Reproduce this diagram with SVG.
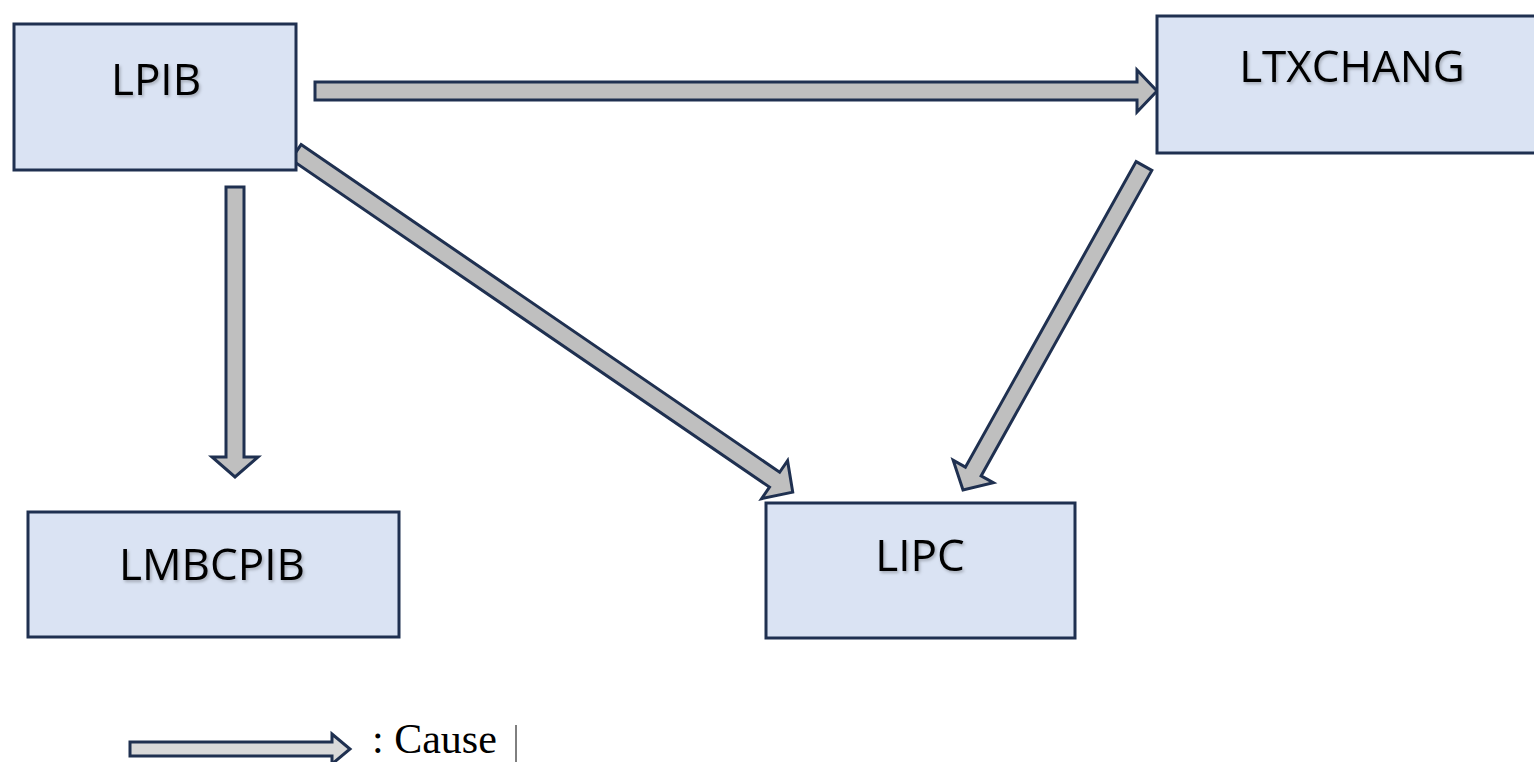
<svg xmlns="http://www.w3.org/2000/svg" width="1534" height="762" viewBox="0 0 1534 762">
<defs>
<filter id="sh" x="-10%" y="-10%" width="130%" height="140%"><feDropShadow dx="1.5" dy="2" stdDeviation="1.5" flood-color="#000" flood-opacity="0.25"/></filter>
</defs>
<style>
.box{fill:#dae3f3;stroke:#1f3050;stroke-width:3}
.lbl{font-family:"Open Sans","Noto Sans",sans-serif;font-size:44px;fill:#000;text-anchor:middle;filter:url(#sh)}
.arr{fill:#bfbfbf;stroke:#1f3050;stroke-width:3;stroke-linejoin:miter}
</style>
<rect width="1534" height="762" fill="#fff"/>
<g id="connectors">
<polygon class="arr" points="0,-9 822,-9 822,-21 842,0 822,21 822,9 0,9" transform="translate(315,91)"/>
<polygon class="arr" points="0,-9 270,-9 270,-23 290,0 270,23 270,9 0,9" transform="translate(235,187) rotate(90)"/>
<polygon class="arr" points="0,-9 580,-9 580,-23 602,0 580,23 580,9 0,9" transform="translate(296,152) rotate(34.4)"/>
<polygon class="arr" points="0,-9 350,-9 350,-23 371,0 350,23 350,9 0,9" transform="translate(1144,166) rotate(119.2)"/>
</g>
<g id="LPIB"><rect class="box" x="14" y="24" width="282" height="146"/><text class="lbl" x="156" y="95">LPIB</text></g>
<g id="LTXCHANG"><rect class="box" x="1157" y="16" width="380" height="137"/><text class="lbl" x="1352" y="82">LTXCHANG</text></g>
<g id="LMBCPIB"><rect class="box" x="28" y="512" width="371" height="125"/><text class="lbl" x="212" y="580">LMBCPIB</text></g>
<g id="LIPC"><rect class="box" x="766" y="503" width="309" height="135"/><text class="lbl" x="920" y="571">LIPC</text></g>
<g id="legend">
<polygon class="arr" points="0,-7 202,-7 202,-15 220,0 202,15 202,7 0,7" transform="translate(130,749)" style="fill:#d9d9d9"/>
<text x="372" y="753" font-family="Liberation Serif,serif" font-size="42" fill="#000">: Cause</text>
<line x1="516" y1="725" x2="516" y2="762" stroke="#000" stroke-width="1"/>
</g>
</svg>
